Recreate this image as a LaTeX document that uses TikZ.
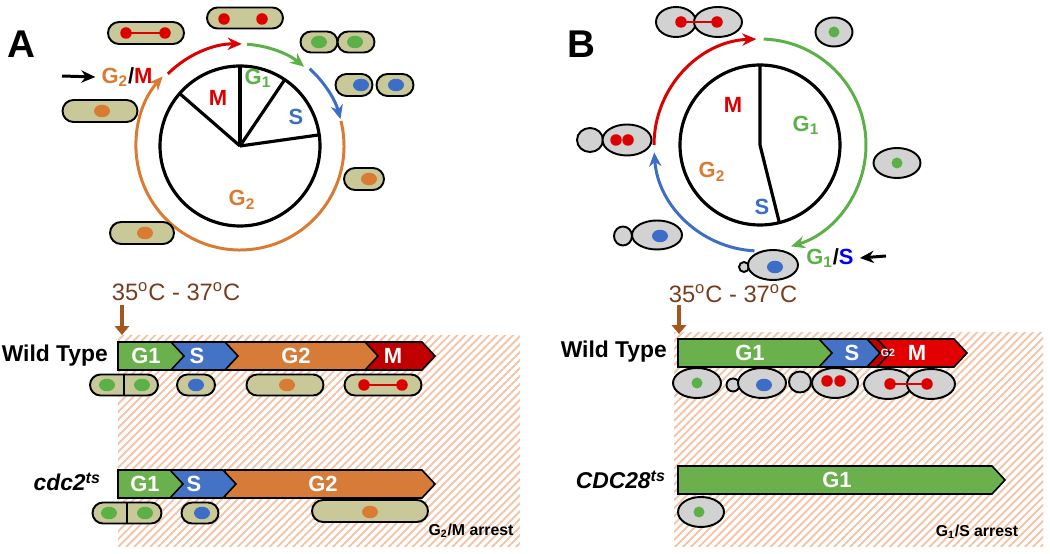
\documentclass[tikz,border=0pt]{standalone}
\usepackage{fontspec}
\setmainfont{Liberation Sans}
\usetikzlibrary{positioning, arrows.meta, shapes.misc, shapes.geometric, patterns.meta}

\definecolor{phG}{RGB}{106,176,76}
\definecolor{phS}{RGB}{68,114,196}
\definecolor{phO}{RGB}{215,123,56}
\definecolor{phR}{RGB}{192,0,0}
\definecolor{phRb}{RGB}{226,0,0}
\definecolor{cG}{RGB}{92,176,72}
\definecolor{cS}{RGB}{60,110,200}
\definecolor{cO}{RGB}{217,123,51}
\definecolor{cR}{RGB}{220,0,0}
\definecolor{rodc}{RGB}{200,200,152}
\definecolor{budc}{RGB}{210,210,210}
\definecolor{tempc}{RGB}{120,60,30}
\definecolor{temparr}{RGB}{165,85,30}
\definecolor{hatchc}{RGB}{242,196,168}

% chevron bar: name, x1, x2, y, colour, label x, label
\newcommand{\phasebar}[7]{%
    \fill[#5, draw=black, line width=0.9pt] (#2,#4-14) -- (#3-13,#4-14) -- (#3,#4) -- (#3-13,#4+14) -- (#2,#4+14) -- cycle;
    \node[phase] (#1) at (#6,#4) {#7};}

\begin{document}
\begin{tikzpicture}[
        x=0.2mm, y=-0.2mm,
        >={Stealth[length=8pt, width=7pt]},
        rod/.style 2 args={rounded rectangle, draw, line width=1.1pt, fill=rodc, minimum width=#1*0.2mm, minimum height=#2*0.2mm, inner sep=0pt},
        bud/.style 2 args={ellipse, draw, line width=1.1pt, fill=budc, minimum width=#1*0.2mm, minimum height=#2*0.2mm, inner sep=0pt},
        dot/.style={ellipse, fill=#1, minimum width=3.2mm, minimum height=2.5mm, inner sep=0pt},
        rdot/.style={circle, fill=cR, minimum size=2.3mm, inner sep=0pt},
        gdot/.style={circle, fill=#1, minimum size=2.2mm, inner sep=0pt},
        cyc/.style={circle, draw, line width=1.8pt, minimum size=160*0.2mm, inner sep=0pt},
        spoke/.style={line width=1.8pt},
        cyclab/.style={font=\bfseries\fontsize{12.5}{14}\selectfont},
        phase/.style={text=white, font=\bfseries\fontsize{12.5}{14}\selectfont},
        rowlab/.style={anchor=east, font=\bfseries\fontsize{13}{15}\selectfont},
        temp/.style={text=tempc, font=\fontsize{13.5}{15}\selectfont},
        tarr/.style={temparr, line width=2.2pt, -{Triangle[length=5pt, width=8pt]}},
        arc/.style={line width=1.7pt, ->},
        hatch/.style={pattern={Lines[angle=45, distance=3.2pt, line width=1.1pt]}, pattern color=hatchc},
        panel/.style={font=\bfseries\fontsize{22}{24}\selectfont},
    ]
    \useasboundingbox (0,0) rectangle (1050,554);

    % hatched restrictive-temperature areas
    \fill[hatch] (118,336) rectangle (520,547);
    \fill[hatch] (674,333) rectangle (1043,547);

    % ---------------- panel A ----------------
    \node[panel] (A) at (21,44) {A};
    \node[cyc] (A-cyc) at (240,146) {};
    \draw[spoke] (A-cyc.center) -- +(-90:79);
    \draw[spoke] (A-cyc.center) -- +(-56:79);
    \draw[spoke] (A-cyc.center) -- +(-8:79);
    \draw[spoke] (A-cyc.center) -- +(-139:79);
    \node[cyclab, text=cR] (A-M) at (218,98) {M};
    \node[cyclab, text=cG] (A-G1) at (258,78) {G\textsubscript{1}};
    \node[cyclab, text=cS] (A-S) at (296,117) {S};
    \node[cyclab, text=cO] (A-G2) at (242,200) {G\textsubscript{2}};

    % outer arrows
    \draw[arc, cO] ([shift={(-14:104)}]A-cyc.center) arc[start angle=-14, end angle=222, radius=104];
    \draw[arc, cR] ([shift={(-135:102)}]A-cyc.center) arc[start angle=-135, end angle=-89, radius=102];
    \draw[arc, cG] ([shift={(-86:102)}]A-cyc.center) arc[start angle=-86, end angle=-51, radius=102];
    \draw[arc, cS] ([shift={(-48:104)}]A-cyc.center) arc[start angle=-48, end angle=-15, radius=104];

    \node[cyclab] (A-G2M) at (127,77) {\textcolor{cO}{G\textsubscript{2}}/\textcolor{cR}{M}};
    \coordinate (A-in) at (62,76);
    \draw[line width=1.7pt, ->] (A-in) -- (A-G2M.west);

    % fission yeast cells around the cycle
    \node[rod={76}{22}] (A-c1) at (146,33) {};
    \draw[cR, line width=1pt] (126,33) -- (165,33);
    \node[rdot] at (126,33) {};
    \node[rdot] at (165,33) {};
    \node[rod={76}{21}] (A-c2) at (245,18) {};
    \node[rdot] at (224,19) {};
    \node[rdot] at (262,19) {};
    \node[rod={37}{21}] (A-c3) at (319,42) {};
    \node[rod={37}{21}] (A-c4) at (356,42) {};
    \node[dot=cG] at (319,42) {};
    \node[dot=cG] at (355,42) {};
    \node[rod={37}{22}] (A-c5) at (354,85) {};
    \node[rod={37}{22}] (A-c6) at (395,85) {};
    \node[dot=cS] at (361,85) {};
    \node[dot=cS] at (396,85) {};
    \node[rod={40}{22}] (A-c7) at (364,179) {};
    \node[dot=cO] at (369,179) {};
    \node[rod={75}{22}] (A-c8) at (100,111) {};
    \node[dot=cO] at (102,111) {};
    \node[rod={64}{22}] (A-c9) at (142,233) {};
    \node[dot=cO] at (145,233) {};

    % temperature shift
    \node[temp] (A-temp) at (176,292) {35\textsuperscript{o}C - 37\textsuperscript{o}C};
    \coordinate (A-t0) at (122,305);
    \coordinate (A-t1) at (122,335);
    \draw[tarr] (A-t0) -- (A-t1);

    % wild type
    \node[rowlab] (A-wt) at (114,356) {Wild Type};
    \phasebar{A-wt-M}{365}{435}{356}{phR}{393}{M}
    \phasebar{A-wt-G2}{225}{378}{356}{phO}{296}{G2}
    \phasebar{A-wt-S}{170}{238}{356}{phS}{197}{S}
    \phasebar{A-wt-G1}{118}{184}{356}{phG}{146}{G1}
    \node[rod={68}{21}] (A-w1) at (124,385) {};
    \draw[line width=1.1pt] (A-w1.north) -- (A-w1.south);
    \node[dot=cG] at (107,385) {};
    \node[dot=cG] at (142,385) {};
    \node[rod={38}{21}] (A-w2) at (196,385) {};
    \node[dot=cS] at (196,385) {};
    \node[rod={77}{21}] (A-w3) at (285,385) {};
    \node[dot=cO] at (287,385) {};
    \node[rod={77}{21}] (A-w4) at (383,385) {};
    \draw[cR, line width=1pt] (364,385) -- (402,385);
    \node[rdot] at (364,385) {};
    \node[rdot] at (402,385) {};

    % cdc2 ts mutant
    \node[rowlab] (A-ts) at (107,482) {\itshape cdc2\textsuperscript{ts}};
    \phasebar{A-ts-G2}{225}{435}{484}{phO}{323}{G2}
    \phasebar{A-ts-S}{170}{236}{484}{phS}{194}{S}
    \phasebar{A-ts-G1}{118}{183}{484}{phG}{145}{G1}
    \node[rod={69}{21}] (A-m1) at (127,513) {};
    \draw[line width=1.1pt] (A-m1.north) -- (A-m1.south);
    \node[dot=cG] at (109,513) {};
    \node[dot=cG] at (145,513) {};
    \node[rod={37}{21}] (A-m2) at (200,513) {};
    \node[dot=cS] at (202,513) {};
    \node[rod={116}{22}] (A-m3) at (370,511) {};
    \node[dot=cO] at (370,512) {};
    \node[font=\bfseries\fontsize{9}{10}\selectfont] (A-arr) at (471,531) {G\textsubscript{2}/M arrest};

    % ---------------- panel B ----------------
    \node[panel] (B) at (581,44) {B};
    \node[cyc] (B-cyc) at (760,145) {};
    \draw[spoke] ([shift={(-90:79)}]B-cyc.center) -- (B-cyc.center) -- +(76:79);
    \node[cyclab, text=cR] (B-M) at (733,105) {M};
    \node[cyclab, text=cG] (B-G1) at (806,125) {G\textsubscript{1}};
    \node[cyclab, text=cO] (B-G2) at (712,172) {G\textsubscript{2}};
    \node[cyclab, text=cS] (B-S) at (762,207) {S};

    \draw[arc, cG] ([shift={(-88:106)}]B-cyc.center) arc[start angle=-88, end angle=73, radius=106];
    \draw[arc, cS] ([shift={(93:106)}]B-cyc.center) arc[start angle=93, end angle=176, radius=106];
    \draw[arc, cR] ([shift={(180:106)}]B-cyc.center) arc[start angle=180, end angle=268, radius=106];

    \node[cyclab] (B-G1S) at (830,258) {\textcolor{cG}{G\textsubscript{1}}/\textcolor{blue}{S}};
    \coordinate (B-in) at (886,256);
    \draw[line width=1.7pt, ->] (B-in) -- (B-G1S.east);

    % budding yeast cells around the cycle
    \node[bud={40}{30}] (B-c1) at (676,22) {};
    \node[bud={48}{30}] (B-c2) at (718,22) {};
    \draw[cR, line width=1pt] (681,22) -- (717,22);
    \node[rdot] at (681,22) {};
    \node[rdot] at (717,22) {};
    \node[bud={37}{29}] (B-c3) at (834,32) {};
    \node[gdot=cG] at (834,32) {};
    \node[bud={47}{30}] (B-c4) at (897,163) {};
    \node[gdot=cG] at (897,163) {};
    \node[bud={26}{24}] (B-c5) at (590,140) {};
    \node[bud={49}{31}] (B-c6) at (627,140) {};
    \node[rdot] at (616,140) {};
    \node[rdot] at (628,140) {};
    \node[bud={18}{19}] (B-c7) at (623,236) {};
    \node[bud={50}{29}] (B-c8) at (657,235) {};
    \node[dot=cS] at (660,236) {};
    \node[bud={10}{10}] (B-c9) at (744,267) {};
    \node[bud={50}{30}] (B-c10) at (773,265) {};
    \node[dot=cS] at (775,267) {};

    % temperature shift
    \node[temp] (B-temp) at (733,294) {35\textsuperscript{o}C - 37\textsuperscript{o}C};
    \coordinate (B-t0) at (679,305);
    \coordinate (B-t1) at (679,334);
    \draw[tarr] (B-t0) -- (B-t1);

    % wild type
    \node[rowlab] (B-wt) at (673,352) {Wild Type};
    \phasebar{B-wt-M}{875}{967}{353}{phRb}{917}{M}
    \phasebar{B-wt-G2}{865}{890}{353}{phR}{888}{\fontsize{6}{7}\selectfont G2}
    \phasebar{B-wt-S}{818}{880}{353}{phS}{852}{S}
    \phasebar{B-wt-G1}{678}{832}{353}{phG}{750}{G1}
    \node[bud={48}{30}] (B-w1) at (697,383) {};
    \node[gdot=cG] at (697,383) {};
    \node[bud={13}{13}] (B-w2) at (733,385) {};
    \node[bud={48}{30}] (B-w3) at (762,383) {};
    \node[dot=cS] at (764,385) {};
    \node[bud={22}{21}] (B-w4) at (800,382) {};
    \node[bud={46}{30}] (B-w5) at (835,383) {};
    \node[rdot] at (827,381) {};
    \node[rdot] at (840,381) {};
    \node[bud={48}{30}] (B-w6) at (888,384) {};
    \node[bud={48}{30}] (B-w7) at (931,384) {};
    \draw[cR, line width=1pt] (890,384) -- (927,384);
    \node[rdot] at (890,384) {};
    \node[rdot] at (927,384) {};

    % CDC28 ts mutant
    \node[rowlab] (B-ts) at (672,480) {\itshape CDC28\textsuperscript{ts}};
    \phasebar{B-ts-G1}{678}{1005}{480}{phG}{837}{G1}
    \node[bud={46}{30}] (B-m1) at (701,512) {};
    \node[gdot=cG] at (699,512) {};
    \node[font=\bfseries\fontsize{9}{10}\selectfont] (B-arr) at (977,532) {G\textsubscript{1}/S arrest};
\end{tikzpicture}
\end{document}
